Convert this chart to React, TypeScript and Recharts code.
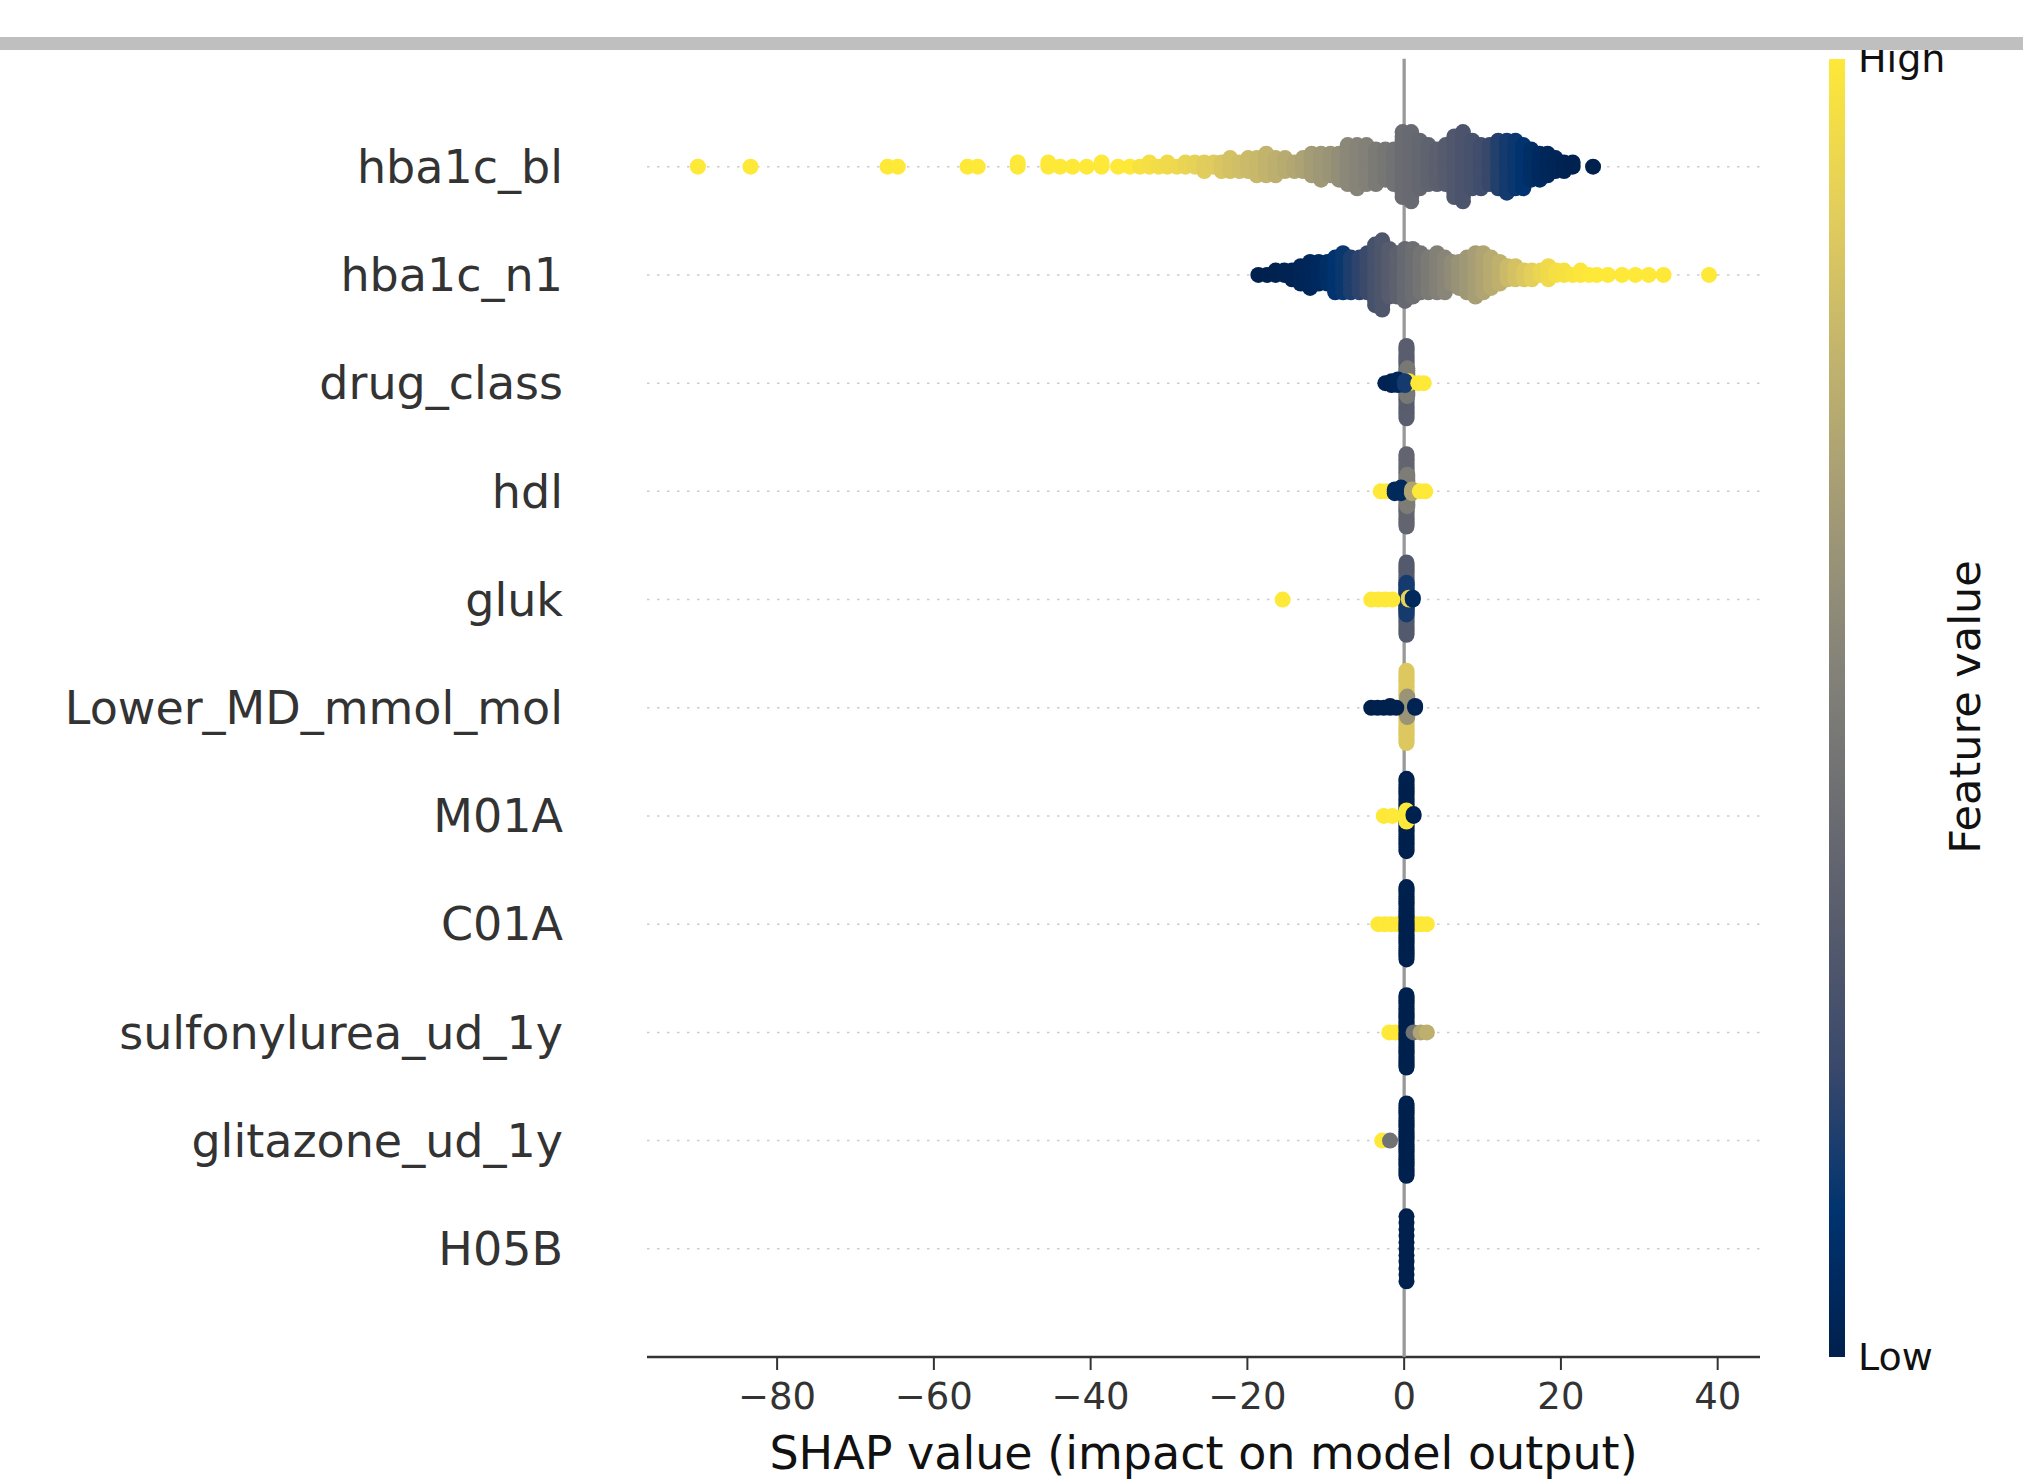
import { ScatterChart, Scatter, XAxis, YAxis, Label } from 'recharts';

// each column of a beeswarm row: [shap value, points stacked in that bin, feature value 0..1]
type Col = [number, number, number];

const features = [
  'hba1c_bl',
  'hba1c_n1',
  'drug_class',
  'hdl',
  'gluk',
  'Lower_MD_mmol_mol',
  'M01A',
  'C01A',
  'sulfonylurea_ud_1y',
  'glitazone_ud_1y',
  'H05B',
];

const hba1cBl: Col[] = [
  [-90.1, 1, 1], [-83.4, 1, 1], [-65.9, 1, 1], [-64.6, 1, 1], [-55.7, 1, 1], [-54.4, 1, 1],
  [-49.3, 2, 1], [-45.4, 2, 1], [-43.9, 1, 1], [-42.3, 1, 1], [-40.5, 1, 1], [-38.6, 2, 1],
  [-36.5, 1, 1], [-35.0, 1, 1], [-33.7, 1, 0.97], [-32.5, 2, 0.96], [-31.3, 1, 0.95],
  [-30.2, 2, 0.94], [-29.0, 1, 0.93], [-27.9, 2, 0.91], [-26.7, 2, 0.9], [-25.5, 3, 0.88],
  [-24.3, 2, 0.87], [-23.3, 3, 0.85], [-22.2, 4, 0.83], [-21.0, 3, 0.82], [-19.9, 4, 0.8],
  [-18.8, 5, 0.79], [-17.6, 6, 0.77], [-16.4, 5, 0.75], [-15.2, 4, 0.73], [-14.0, 3, 0.71],
  [-12.9, 4, 0.69], [-11.8, 6, 0.66], [-10.6, 7, 0.64], [-9.4, 6, 0.62], [-8.3, 7, 0.59],
  [-7.2, 10, 0.56], [-6.0, 11, 0.54], [-4.8, 10, 0.52], [-3.6, 9, 0.49], [-2.4, 8, 0.47],
  [-1.3, 9, 0.45], [-0.2, 16, 0.42], [0.9, 17, 0.41], [2.0, 12, 0.39], [3.1, 10, 0.37],
  [4.2, 9, 0.35], [5.3, 10, 0.33], [6.4, 15, 0.31], [7.5, 17, 0.29], [8.7, 12, 0.27],
  [9.8, 11, 0.25], [10.9, 10, 0.22], [12.0, 12, 0.18], [13.1, 13, 0.15], [14.2, 12, 0.13],
  [15.2, 11, 0.11], [16.2, 8, 0.08], [17.3, 7, 0.06], [18.3, 6, 0.04], [19.3, 4, 0.03],
  [20.4, 3, 0.02], [21.5, 2, 0.01], [24.1, 1, 0],
];

const hba1cN1: Col[] = [
  [-18.6, 1, 0], [-17.5, 1, 0], [-16.4, 2, 0.01], [-15.3, 2, 0.02], [-14.3, 3, 0.02],
  [-13.2, 5, 0.03], [-12.0, 7, 0.04], [-10.9, 6, 0.06], [-9.8, 6, 0.08], [-8.8, 9, 0.11],
  [-7.8, 10, 0.13], [-6.8, 9, 0.17], [-5.7, 9, 0.2], [-4.7, 10, 0.23], [-3.7, 15, 0.27],
  [-2.8, 17, 0.3], [-1.9, 12, 0.33], [-0.9, 11, 0.36], [0.1, 13, 0.4], [1.1, 12, 0.43],
  [2.1, 10, 0.46], [3.1, 9, 0.49], [4.2, 10, 0.52], [5.2, 9, 0.55], [6.1, 6, 0.58],
  [7.0, 7, 0.61], [8.0, 9, 0.64], [9.1, 11, 0.67], [10.1, 10, 0.7], [11.1, 8, 0.73],
  [12.2, 6, 0.76], [13.2, 4, 0.8], [14.2, 4, 0.83], [15.3, 3, 0.86], [16.3, 3, 0.89],
  [17.4, 2, 0.92], [18.4, 4, 0.94], [19.4, 2, 0.96], [20.4, 2, 0.97], [21.5, 1, 0.98],
  [22.5, 2, 0.99], [23.6, 1, 1], [24.6, 1, 1], [26.0, 1, 1], [27.8, 1, 1], [29.5, 1, 1],
  [31.2, 1, 1], [33.1, 1, 1], [38.9, 1, 1],
];

const drugClass: Col[] = [
  [0.3, 40, 0.34], [0.4, 16, 0.48], [-2.4, 1, 0.02], [-1.6, 3, 0.02], [-0.8, 4, 0.04],
  [0.6, 2, 1], [0.1, 3, 0.15], [1.8, 1, 1], [2.5, 1, 1],
];

const hdl: Col[] = [
  [0.3, 40, 0.38], [0.4, 18, 0.5], [-3.0, 1, 1], [-2.2, 1, 1], [-1.2, 3, 0.05],
  [-0.4, 4, 0.05], [1.0, 3, 0.7], [2.0, 1, 1], [2.7, 1, 1],
];

const gluk: Col[] = [
  [0.3, 40, 0.32], [0.3, 18, 0.15], [-15.5, 1, 1], [-4.2, 1, 1], [-3.3, 1, 1],
  [-2.4, 1, 1], [-1.5, 1, 1], [0.6, 2, 0.9], [1.1, 2, 0.05],
];

const lowerMd: Col[] = [
  [0.3, 40, 0.86], [0.4, 12, 0.62], [-4.2, 1, 0], [-3.4, 1, 0], [-2.6, 1, 0],
  [-1.8, 2, 0], [-1.0, 1, 0], [1.4, 2, 0.02],
];

const m01a: Col[] = [
  [0.3, 40, 0], [0.3, 7, 1], [-2.6, 1, 1], [-1.5, 1, 1], [1.2, 2, 0],
];

const c01a: Col[] = [
  [-3.3, 1, 1], [-2.5, 1, 1], [-1.7, 1, 1], [-0.9, 1, 1], [1.5, 1, 1], [2.2, 1, 1],
  [2.9, 1, 1], [0.3, 40, 0],
];

const sulfonylurea: Col[] = [
  [-1.9, 1, 1], [-1.1, 1, 1], [0.3, 40, 0], [1.2, 1, 0.45], [2.1, 1, 0.7], [2.9, 1, 0.75],
];

const glitazone: Col[] = [[-2.8, 1, 1], [-1.8, 1, 0.45], [0.3, 40, 0]];

const h05b: Col[] = [[0.3, 11, 0]];

const rows = [hba1cBl, hba1cN1, drugClass, hdl, gluk, lowerMd, m01a, c01a, sulfonylurea, glitazone, h05b];

const xTicks = [-80, -60, -40, -20, 0, 20, 40];
const rowTicks = [0, 1, 2, 3, 4, 5, 6, 7, 8, 9, 10];

const cividisStops = ['#00204D', '#00336F', '#39486B', '#575C6D', '#707173', '#8A8779', '#A69D75', '#C4B56C', '#E4CF5B', '#FEE838'];

const X_MIN = -96.6;
const X_MAX = 45.4;
const W = 2023;
const H = 1484;
const PLOT_TOP = 58.5;
const PLOT_BOTTOM = 1357;
const PLOT_RIGHT = 1760;
const PLOT_LEFT = 647;
const ROW_PX = (PLOT_BOTTOM - PLOT_TOP) / 12;
const DOT_R = 8;
const FONT = '"DejaVu Sans", sans-serif';

function hexToRgb(h: string) {
  const n = parseInt(h.slice(1), 16);
  return [(n >> 16) & 255, (n >> 8) & 255, n & 255];
}

function cividis(t: number) {
  const v = Math.max(0, Math.min(1, t)) * (cividisStops.length - 1);
  const i = Math.min(Math.floor(v), cividisStops.length - 2);
  const f = v - i;
  const a = hexToRgb(cividisStops[i]);
  const b = hexToRgb(cividisStops[i + 1]);
  const c = a.map((av, k) => Math.round(av + (b[k] - av) * f));
  return `rgb(${c[0]},${c[1]},${c[2]})`;
}

// shap-style layering: 0, +1, -1, +2, -2 ... scaled so the tallest bin fills 0.36 of a row
function makeShape(unit: number) {
  return (props: any) => {
    const { cx, cy, payload } = props;
    const fill = cividis(payload.c);
    const circles = [];
    for (let j = 0; j < payload.n; j++) {
      const ys = Math.ceil(j / 2) * (j % 2 ? 1 : -1);
      circles.push(<circle key={j} cx={cx} cy={cy - ys * unit} r={DOT_R} fill={fill} />);
    }
    return <g>{circles}</g>;
  };
}

const noDot = () => <g />;

const minus = (v: number) => String(v).replace('-', '\u2212');

export default function App() {
  return (
    <div style={{ position: 'relative', width: W, height: H, background: '#fff', fontFamily: FONT }}>
      <style>{'body{margin:0;background:#fff}'}</style>
      <ScatterChart
        width={W}
        height={H}
        margin={{ top: PLOT_TOP, right: W - PLOT_RIGHT, bottom: 0, left: PLOT_LEFT - 80 }}
        style={{ fontFamily: FONT }}
      >
        <XAxis
          type="number"
          dataKey="x"
          domain={[X_MIN, X_MAX]}
          allowDataOverflow
          ticks={xTicks}
          interval={0}
          tickFormatter={minus}
          height={H - PLOT_BOTTOM}
          tickSize={13}
          tickMargin={13}
          axisLine={{ stroke: '#333333', strokeWidth: 2.7 }}
          tickLine={{ stroke: '#333333', strokeWidth: 2 }}
          tick={{ fill: '#333333', fontSize: 37, fontFamily: FONT }}
        >
          <Label
            value="SHAP value (impact on model output)"
            position="insideBottom"
            offset={15}
            fill="#111111"
            fontSize={46}
            fontFamily={FONT}
          />
        </XAxis>
        <YAxis
          type="number"
          dataKey="y"
          domain={[-1, 11]}
          allowDataOverflow
          ticks={rowTicks}
          interval={0}
          tickFormatter={(v: number) => features[10 - v]}
          width={80}
          axisLine={false}
          tickLine={false}
          tickSize={0}
          tickMargin={84}
          tick={{ fill: '#333333', fontSize: 46, fontFamily: FONT }}
        />
        {rowTicks.map((r) => (
          <Scatter
            key={`grid-${r}`}
            data={[{ x: X_MIN, y: r }, { x: X_MAX, y: r }]}
            line={{ stroke: '#cccccc', strokeWidth: 1.5, strokeDasharray: '2.5 7.5' }}
            shape={noDot}
            isAnimationActive={false}
          />
        ))}
        <Scatter
          data={[{ x: 0, y: -1 }, { x: 0, y: 11 }]}
          line={{ stroke: '#999999', strokeWidth: 3.3 }}
          shape={noDot}
          isAnimationActive={false}
        />
        {rows.map((cols, i) => {
          const maxPos = Math.max(...cols.map((c) => Math.floor(c[1] / 2)));
          const unit = (0.36 / (maxPos + 1)) * ROW_PX;
          const data = cols.map(([x, n, c]) => ({ x, y: 10 - i, n, c }));
          return (
            <Scatter
              key={features[i]}
              name={features[i]}
              data={data}
              shape={makeShape(unit)}
              isAnimationActive={false}
            />
          );
        })}
      </ScatterChart>

      {/* colour bar */}
      <div
        style={{
          position: 'absolute',
          left: 1829,
          top: PLOT_TOP,
          width: 16,
          height: PLOT_BOTTOM - PLOT_TOP,
          background: `linear-gradient(to top, ${cividisStops
            .map((c, i) => `${c} ${((i / (cividisStops.length - 1)) * 100).toFixed(1)}%`)
            .join(', ')})`,
        }}
      />
      <div style={{ position: 'absolute', left: 1858, top: PLOT_TOP, transform: 'translateY(-50%)', fontSize: 38, lineHeight: 1, color: '#111' }}>
        High
      </div>
      <div style={{ position: 'absolute', left: 1858, top: PLOT_BOTTOM, transform: 'translateY(-50%)', fontSize: 38, lineHeight: 1, color: '#111' }}>
        Low
      </div>
      <div
        style={{
          position: 'absolute',
          left: 1965,
          top: 707,
          transform: 'translate(-50%, -50%) rotate(-90deg)',
          fontSize: 43,
          lineHeight: 1,
          whiteSpace: 'nowrap',
          color: '#111',
        }}
      >
        Feature value
      </div>

      {/* grey band across the top */}
      <div style={{ position: 'absolute', left: 0, top: 37, width: W, height: 13, background: '#bfbfbf', zIndex: 10 }} />
    </div>
  );
}
